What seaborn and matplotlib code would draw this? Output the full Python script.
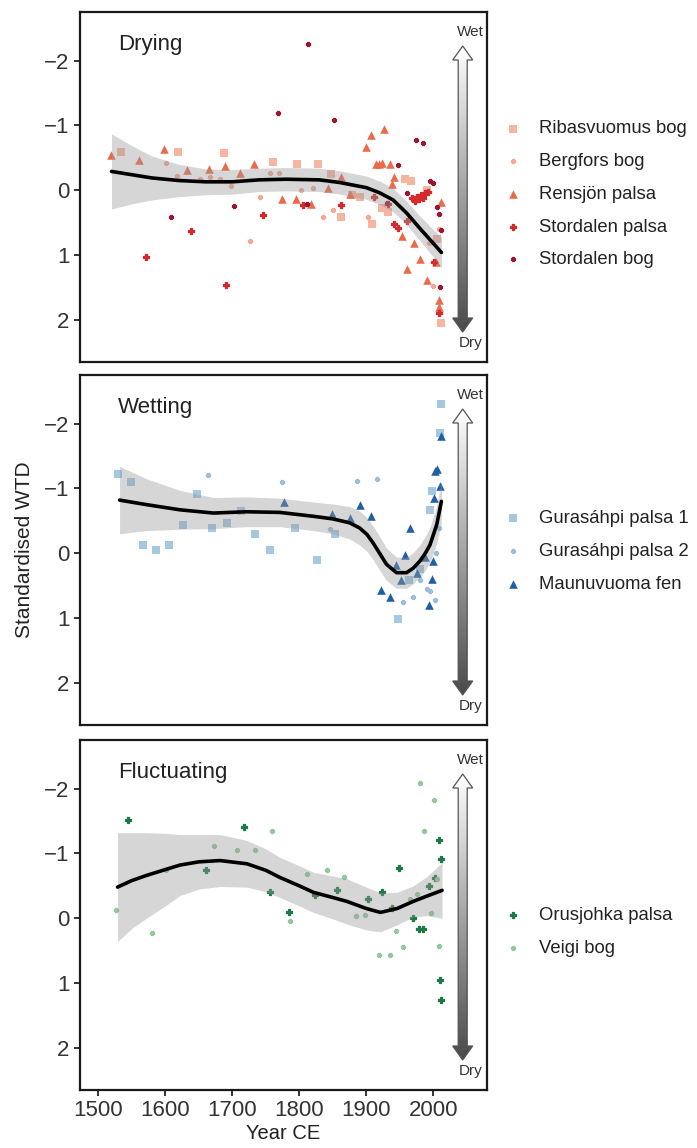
import matplotlib
matplotlib.use("Agg")
import matplotlib.pyplot as plt
import numpy as np
import seaborn as sns
from matplotlib.colors import LinearSegmentedColormap
from matplotlib.patches import Polygon

# ---- Drying panel ----
ribas_year = [1534, 1619, 1688, 1761, 1796, 1828, 1848, 1863, 1878, 1890, 1908, 1923, 1932, 1958, 1967, 1990, 2005, 2012]
ribas_wtd = [-0.59, -0.59, -0.57, -0.44, -0.41, -0.41, -0.25, 0.42, 0.08, 0.10, 0.52, 0.28, 0.34, -0.18, -0.15, 0.00, 0.75, 2.05]

bergfors_year = [1601, 1617, 1652, 1667, 1682, 1698, 1726, 1741, 1757, 1770, 1803, 1821, 1836, 1851, 1902, 1994, 1999, 2008]
bergfors_wtd = [-0.42, -0.22, -0.18, -0.21, -0.17, -0.06, 0.78, 0.11, -0.27, -0.26, -0.01, -0.03, 0.42, 0.31, 0.42, 0.81, 1.48, 0.60]

rensjon_year = [1519, 1561, 1598, 1633, 1665, 1689, 1712, 1733, 1774, 1795, 1818, 1843, 1863, 1876, 1899, 1907,
                1914, 1919, 1924, 1927, 1936, 1938, 1941, 1953, 1961, 1971, 1980, 1991, 2004, 2008, 2009, 2012]
rensjon_wtd = [-0.54, -0.46, -0.63, -0.32, -0.33, -0.37, -0.26, -0.41, 0.13, 0.14, 0.21, -0.03, -0.21, 0.06, -0.67, -0.86,
               -0.41, -0.40, -0.42, -0.94, -0.41, -0.10, -0.20, 0.70, 1.22, 0.82, 1.06, 1.39, 1.10, 1.70, 1.80, 0.18]

stpalsa_year = [1571, 1638, 1690, 1746, 1806, 1862, 1912, 1933, 1941, 1948, 1961, 1968, 1972, 1975, 1978, 1982, 1985, 1988, 1992, 2001, 2009]
stpalsa_wtd = [1.03, 0.63, 1.46, 0.38, 0.23, 0.22, 0.11, 0.21, 0.52, 0.58, 0.47, 0.12, 0.16, 0.10, 0.14, 0.08, 0.12, 0.05, 0.02, 1.11, 1.90]

stbog_year = [1608, 1702, 1768, 1811, 1813, 1852, 1931, 1948, 1960, 1974, 1985, 1995, 2000, 2005, 2009, 2011, 2010]
stbog_wtd = [0.42, 0.25, -1.19, 0.21, -2.25, -1.09, 0.19, -0.39, 0.05, -0.77, -0.73, -0.14, -0.11, 0.26, 0.36, 0.62, 1.49]

fit1_year = [1520, 1550, 1580, 1620, 1660, 1700, 1740, 1780, 1830, 1860, 1880, 1900, 1920, 1940, 1960, 1980, 2000, 2012]
fit1_wtd = [-0.29, -0.24, -0.19, -0.15, -0.13, -0.13, -0.16, -0.17, -0.16, -0.12, -0.08, -0.04, 0.04, 0.15, 0.35, 0.59, 0.82, 0.96]
fit1_se = [0.58, 0.45, 0.34, 0.25, 0.20, 0.19, 0.18, 0.18, 0.18, 0.18, 0.18, 0.18, 0.18, 0.18, 0.18, 0.19, 0.21, 0.24]

# ---- Wetting panel ----
gura1_year = [1530, 1549, 1567, 1586, 1605, 1627, 1648, 1670, 1692, 1713, 1734, 1756, 1794, 1827, 1853, 1948, 1963, 1980, 1995, 1998, 2010, 2012]
gura1_wtd = [-1.23, -1.10, -0.13, -0.05, -0.13, -0.43, -0.92, -0.39, -0.46, -0.65, -0.30, -0.05, -0.39, 0.11, -0.30, 1.01, 0.41, 0.24, -0.66, -0.96, -1.86, -2.31]

gura2_year = [1664, 1775, 1846, 1886, 1916, 1955, 1969, 1980, 1990, 1995, 2003, 2004, 2008]
gura2_wtd = [-1.21, -1.10, -0.38, -1.11, -1.14, 0.75, 0.68, 0.41, 0.55, 0.59, 0.72, 0.00, -0.39]

maun_year = [1777, 1849, 1876, 1890, 1907, 1922, 1935, 1945, 1951, 1958, 1965, 1975, 1988, 1993, 1998, 1999, 2001, 2003, 2006, 2010, 2012]
maun_wtd = [-0.79, -0.60, -0.54, -0.74, -0.57, 0.57, 0.68, 0.18, 0.41, 0.03, -0.39, 0.30, 0.06, 0.80, 0.40, 0.12, -0.85, -1.27, -1.30, -1.04, -1.81]

fit2_year = [1532, 1572, 1622, 1672, 1721, 1771, 1821, 1850, 1875, 1890, 1901, 1910, 1918, 1930, 1945, 1960, 1970, 1980, 1988, 1995, 2005, 2012]
fit2_wtd = [-0.82, -0.75, -0.67, -0.62, -0.64, -0.63, -0.57, -0.53, -0.47, -0.39, -0.29, -0.16, -0.03, 0.17, 0.30, 0.30, 0.23, 0.12, 0.00, -0.13, -0.44, -0.80]
fit2_se = [0.52, 0.40, 0.30, 0.24, 0.23, 0.22, 0.22, 0.23, 0.25, 0.26, 0.26, 0.26, 0.26, 0.25, 0.24, 0.24, 0.24, 0.25, 0.26, 0.27, 0.29, 0.32]

# ---- Fluctuating panel ----
orus_year = [1544, 1661, 1717, 1756, 1785, 1823, 1857, 1903, 1923, 1938, 1949, 1970, 1979, 1985, 1993, 2003, 2009, 2010, 2011, 2012]
orus_wtd = [-1.52, -0.74, -1.41, -0.40, -0.10, -0.36, -0.44, -0.29, -0.40, -0.16, -0.78, 0.00, 0.16, 0.16, -0.49, -0.62, -1.20, 0.96, 1.26, -0.92]

veigi_year = [1526, 1581, 1602, 1673, 1707, 1734, 1760, 1786, 1812, 1841, 1866, 1885, 1898, 1919, 1935, 1945, 1955,
              1965, 1975, 1980, 1986, 1996, 2001, 2006, 2008]
veigi_wtd = [-0.13, 0.22, -0.74, -1.12, -1.06, -1.06, -1.34, 0.05, -0.69, -0.75, -0.63, -0.03, -0.05, 0.57, 0.57, 0.19, 0.45,
             -0.29, -0.38, -2.09, -1.35, -0.08, -1.83, -0.60, 0.43]

fit3_year = [1529, 1550, 1572, 1600, 1622, 1650, 1682, 1722, 1750, 1771, 1800, 1821, 1850, 1871, 1900, 1921, 1946, 1970, 1990, 2013]
fit3_wtd = [-0.48, -0.58, -0.66, -0.75, -0.82, -0.87, -0.89, -0.84, -0.74, -0.63, -0.50, -0.40, -0.32, -0.26, -0.15, -0.09, -0.15, -0.26, -0.34, -0.43]
fit3_se = [0.84, 0.74, 0.66, 0.56, 0.47, 0.42, 0.40, 0.36, 0.33, 0.31, 0.31, 0.31, 0.33, 0.35, 0.33, 0.30, 0.25, 0.24, 0.30, 0.43]

W, H = 697, 1148

sns.set_style("ticks")
plt.rcParams["font.family"] = ["Liberation Sans", "DejaVu Sans"]

panels = [
    dict(title="Drying", top=12, leg_y=0.479, fit=(fit1_year, fit1_wtd, fit1_se), sites=[
        ("Ribasvuomus bog", ribas_year, ribas_wtd, "#f5b5a0", "s", 32),
        ("Bergfors bog", bergfors_year, bergfors_wtd, "#f7a890", "P", 12),
        ("Rensjön palsa", rensjon_year, rensjon_wtd, "#ec6a4c", "^", 38),
        ("Stordalen palsa", stpalsa_year, stpalsa_wtd, "#d42a2c", "P", 22),
        ("Stordalen bog", stbog_year, stbog_wtd, "#9b1731", "P", 12),
    ]),
    dict(title="Wetting", top=375, leg_y=0.496, fit=(fit2_year, fit2_wtd, fit2_se), sites=[
        ("Gurasáhpi palsa 1", gura1_year, gura1_wtd, "#a4c8e0", "s", 32),
        ("Gurasáhpi palsa 2", gura2_year, gura2_wtd, "#9cbfd9", "P", 12),
        ("Maunuvuoma fen", maun_year, maun_wtd, "#1f5fa6", "^", 38),
    ]),
    dict(title="Fluctuating", top=740, leg_y=0.451, fit=(fit3_year, fit3_wtd, fit3_se), sites=[
        ("Orusjohka palsa", orus_year, orus_wtd, "#1d7a45", "P", 24),
        ("Veigi bog", veigi_year, veigi_wtd, "#92c99b", "P", 12),
    ]),
]

fig = plt.figure(figsize=(W / 100, H / 100), dpi=100)
grad = LinearSegmentedColormap.from_list("wetdry", ["#ffffff", "#4a4a4a"])

for i, p in enumerate(panels):
    top = p["top"]
    ax = fig.add_axes([80 / W, 1 - (top + 350) / H, 407 / W, 350 / H])

    for name, xs, ys, c, m, s in p["sites"]:
        # thin same-colour edge makes the small plus markers look blobby like the original
        lw = 0.9 if m == "P" else 0
        sns.scatterplot(x=xs, y=ys, ax=ax, color=c, marker=m, s=s, linewidth=lw,
                        edgecolor=c, label=name, zorder=2)

    fy, fm, fs = p["fit"]
    fm, fs = np.array(fm), np.array(fs)
    ax.fill_between(fy, fm - fs, fm + fs, color="#999999", alpha=0.4, lw=0, zorder=3)
    sns.lineplot(x=fy, y=fm, ax=ax, color="black", lw=2.6, zorder=4)

    ax.set_xlim(1473, 2080)
    ax.set_ylim(2.65, -2.75)
    ax.set_yticks([-2, -1, 0, 1, 2])
    ax.set_xticks(range(1500, 2001, 100))
    for sp in ax.spines.values():
        sp.set_linewidth(1.6)
        sp.set_color("#1a1a1a")
    ax.tick_params(direction="out", length=4, width=1.4, labelsize=16,
                   labelcolor="#333333", color="#333333")
    if i < 2:
        ax.tick_params(axis="x", length=0, labelbottom=False)
    ax.set_ylabel("")
    ax.set_xlabel("")

    ax.text(0.093, 0.906, p["title"], transform=ax.transAxes, fontsize=16,
            ha="left", va="center", color="#222222")
    ax.text(0.958, 0.943, "Wet", transform=ax.transAxes, fontsize=11,
            ha="center", va="center", color="#333333")
    ax.text(0.960, 0.054, "Dry", transform=ax.transAxes, fontsize=11,
            ha="center", va="center", color="#333333")

    ax.legend(frameon=False, loc="center left", bbox_to_anchor=(1.040, p["leg_y"]),
              borderaxespad=0, borderpad=0, handlelength=1.0, handletextpad=0.95,
              labelspacing=0.85, fontsize=13.3, scatterpoints=1, labelcolor="#222222")

    # gradient double arrow (wet -> dry)
    aax = fig.add_axes([450.7 / W, 1 - (top + 322) / H, 24 / W, 290 / H])
    aax.set_xlim(0, 24)
    aax.set_ylim(0, 290)
    aax.axis("off")
    arrow = Polygon([(12, 288), (2, 274), (7.5, 274), (7.5, 16), (2, 16), (12, 2),
                     (22, 16), (16.5, 16), (16.5, 274), (22, 274)], closed=True,
                    facecolor="none", edgecolor="#555555", lw=0.9, zorder=3)
    aax.add_patch(arrow)
    img = aax.imshow(np.linspace(0, 1, 256).reshape(-1, 1), cmap=grad, aspect="auto",
                     extent=[0, 24, 2, 288], origin="upper", zorder=2)
    img.set_clip_path(arrow)

    if i == 2:
        ax.set_xlabel("Year CE", fontsize=14.5, labelpad=2, color="#222222")

fig.text(25 / W, 1 - 550 / H, "Standardised WTD", rotation=90, fontsize=15,
         ha="center", va="center", color="#222222")

fig.savefig("out.png", dpi=100)
